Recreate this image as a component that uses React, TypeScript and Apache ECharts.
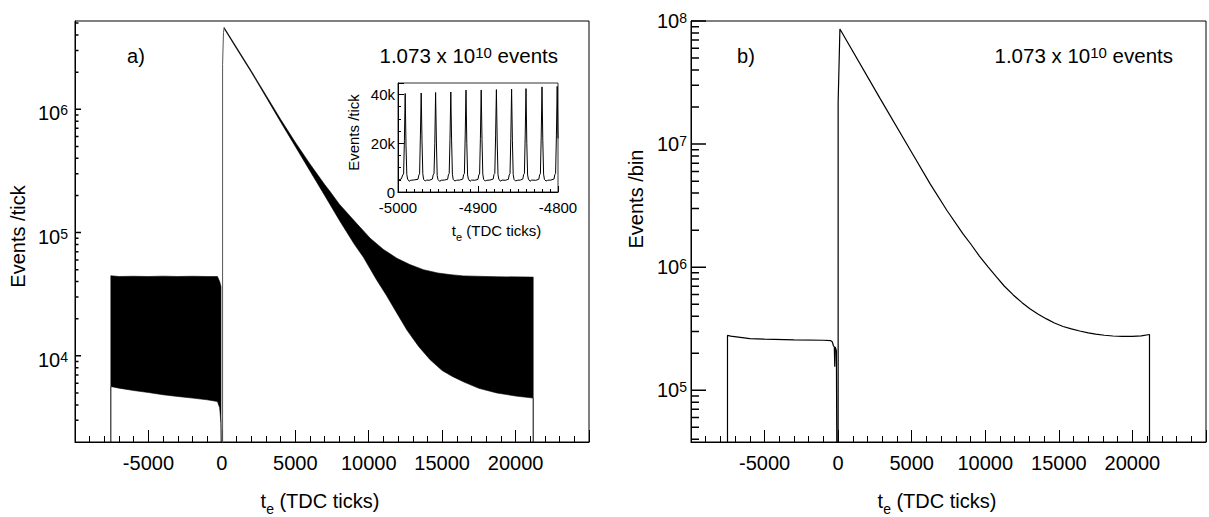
import React, { useEffect, useRef } from 'react';
import * as echarts from 'echarts';

const FONT = '"Liberation Sans", Arial, Helvetica, sans-serif';
const BLACK = '#000';

// ---------------- panel a) : per-tick histogram (envelope of the fast oscillation) ----------------
const aPreX = [-7560, -7000, -6000, -5000, -4000, -3000, -2000, -1000, -300, -150, -60];
const aPreUpper = [44600, 44000, 44200, 44000, 44300, 44000, 44200, 44000, 44000, 40000, 36500];
const aPreLower = [5640, 5470, 5230, 5040, 4830, 4680, 4540, 4400, 4260, 3800, 2840];

const aPostUpperX = [160, 2000, 4000, 5000, 6000, 7000, 7370, 8000, 9000, 10100, 11000, 11910, 12800, 13720, 14700, 15600, 16450, 18720, 21200];
const aPostUpper = [4.6e6, 2.05e6, 8.3e5, 5.4e5, 3.6e5, 2.45e5, 2.15e5, 1.7e5, 1.25e5, 9.0e4, 7.3e4, 6.2e4, 5.5e4, 5.0e4, 4.7e4, 4.55e4, 4.45e4, 4.38e4, 4.35e4];
const aPostLowerX = [160, 1000, 2000, 3000, 4000, 5000, 6000, 7000, 8000, 9000, 9640, 10500, 11200, 11910, 12600, 13400, 14180, 15000, 15700, 16450, 17500, 18720, 20000, 21200];
const aPostLower = [4.5e6, 3.1e6, 2.0e6, 1.26e6, 7.9e5, 5.0e5, 3.16e5, 2.0e5, 1.26e5, 8.1e4, 6.3e4, 4.2e4, 3.1e4, 2.23e4, 1.62e4, 1.19e4, 9.3e3, 7.6e3, 6.8e3, 6.15e3, 5.45e3, 5.0e3, 4.72e3, 4.54e3];

// histogram edges (1000 = empty bins, below the axis)
const aEdgeStartX = [-7560, -7560];
const aEdgeStartY = [1000, 5640];
const aEdgeZeroX = [-60, -20];
const aEdgeZeroY = [2840, 1000];
const aEdgeRiseX = [50, 50, 110, 160];
const aEdgeRiseY = [1000, 2.3e6, 4.2e6, 4.6e6];
const aEdgeEndX = [21200, 21200];
const aEdgeEndY = [4540, 1000];

// ---------------- panel b) : rebinned histogram ----------------
const bX = [-7520, -7520, -7300, -6000, -5000, -3000, -1000, -500, -400, -320, -260, -230, -200, -120, -70, 0, 0, 120, 2866, 5122, 6253, 7385, 8510, 9000, 9600, 10200, 10772, 11300, 11900, 12500, 13030, 13600, 14160, 14700, 15285, 15850, 16416, 17000, 17500, 18100, 18672, 19300, 20000, 20600, 21160, 21160];
const bY = [1e4, 2.79e5, 2.75e5, 2.63e5, 2.6e5, 2.57e5, 2.55e5, 2.53e5, 2.48e5, 2.3e5, 2.25e5, 1.55e5, 2.25e5, 2.1e5, 1e4, 1e4, 2.2e7, 8.6e7, 2.33e7, 8.07e6, 4.75e6, 2.9e6, 1.85e6, 1.55e6, 1.23e6, 1.0e6, 8.3e5, 7.0e5, 5.95e5, 5.15e5, 4.6e5, 4.15e5, 3.8e5, 3.52e5, 3.3e5, 3.15e5, 3.03e5, 2.93e5, 2.86e5, 2.8e5, 2.76e5, 2.74e5, 2.74e5, 2.77e5, 2.84e5, 1e4];

// ---------------- inset : zoom of panel a) ----------------
const insetX = [
  -5000, -4996, -4994, -4993, -4992, -4991, -4990, -4989, -4988, -4986, -4984, -4981,
  -4975, -4974, -4973, -4972, -4971, -4970, -4969, -4968, -4966, -4964, -4961,
  -4957, -4956, -4955, -4954, -4953, -4952, -4951, -4950, -4948, -4946, -4942,
  -4938, -4937, -4936, -4935, -4934, -4933, -4932, -4931, -4929, -4927, -4923,
  -4919, -4918, -4917, -4916, -4915, -4914, -4913, -4912, -4910, -4908, -4904,
  -4900, -4899, -4898, -4897, -4896, -4895, -4894, -4893, -4891, -4889, -4885,
  -4881, -4880, -4879, -4878, -4877, -4876, -4875, -4874, -4872, -4870, -4866,
  -4862, -4861, -4860, -4859, -4858, -4857, -4856, -4855, -4853, -4851, -4847,
  -4844, -4843, -4842, -4841, -4840, -4839, -4838, -4837, -4835, -4833, -4828,
  -4824, -4823, -4822, -4821, -4820, -4819, -4818, -4817, -4815, -4813, -4809,
  -4805, -4804, -4803, -4802, -4801, -4800,
];
const insetY = [
  4800, 5300, 7000, 7400, 21000, 40400, 19000, 7200, 5300, 4400, 4800, 4900,
  5200, 6900, 7500, 23000, 40600, 21000, 7500, 5200, 4500, 4900, 4800,
  5300, 7100, 7400, 20000, 40800, 20500, 6800, 5100, 4400, 4800, 4900,
  5200, 7000, 7600, 22000, 41000, 21000, 7300, 5200, 4500, 4800, 4900,
  5300, 7100, 7500, 23000, 41800, 20000, 7000, 5300, 4400, 4900, 4800,
  5200, 7000, 7400, 22000, 41800, 21500, 7400, 5200, 4500, 4800, 4900,
  5300, 7200, 7600, 23000, 42000, 20500, 7100, 5300, 4400, 4900, 4800,
  5200, 7000, 7500, 22000, 42200, 21000, 7200, 5200, 4500, 4800, 4900,
  5300, 7100, 7600, 23000, 42400, 20000, 7000, 5300, 4400, 4900, 4800,
  5200, 7000, 7500, 22500, 43100, 21000, 7300, 5200, 4500, 4800, 4900,
  5300, 7100, 7600, 23000, 43300, 22000,
];

const eventsText = '{a|1.073 x 10}{s|10}{a| events}';

// ---------------- layout ----------------
const X_MIN = -10000;
const X_MAX = 25000;
const A_YMIN = 2000;
const A_YMAX = 5.2e6;
const B_YMIN = 38000;
const B_YMAX = 1e8;
const GRID_A = { left: 75, top: 21, width: 514, height: 421 };
const GRID_B = { left: 691, top: 21, width: 515, height: 421 };
const GRID_I = { left: 398, top: 83, width: 160, height: 109 };

// ---------------- helpers ----------------
const zip = (xs: number[], ys: number[]) => xs.map((x, i) => [x, ys[i]]);

const logTicks = (lo: number, hi: number, major: boolean) => {
  const out: number[] = [];
  for (let k = Math.floor(Math.log10(lo)); k <= Math.ceil(Math.log10(hi)); k++) {
    if (major) {
      const v = Math.pow(10, k);
      if (v >= lo * 0.999999 && v <= hi * 1.000001) out.push(v);
    } else {
      for (let m = 2; m <= 9; m++) {
        const v = m * Math.pow(10, k);
        if (v > lo && v < hi) out.push(v);
      }
    }
  }
  return out;
};

const powLabel = (v: number) => {
  const e = Math.log10(v);
  const r = Math.round(e);
  if (Math.abs(e - r) > 1e-6) return '';
  return `{b|10}{s|${r}}`;
};

const powRich = {
  b: { fontSize: 20, lineHeight: 20, fontFamily: FONT, color: BLACK, verticalAlign: 'bottom' },
  s: { fontSize: 14, lineHeight: 14, fontFamily: FONT, color: BLACK, verticalAlign: 'top', padding: [0, 0, 10, 0] },
};

const subRich = (size: number, sub: number, lh: number) => ({
  t: { fontSize: size, lineHeight: size, fontFamily: FONT, color: BLACK, verticalAlign: 'middle' },
  s: { fontSize: sub, lineHeight: lh, fontFamily: FONT, color: BLACK, verticalAlign: 'bottom' },
});

const lineStyle = { color: BLACK, width: 1 };

const mainX = (g: number, shiftPad: number) => ({
  type: 'value',
  gridIndex: g,
  min: X_MIN,
  max: X_MAX,
  interval: 5000,
  axisLine: { show: true, onZero: false, lineStyle },
  axisTick: { show: true, inside: true, length: 12, lineStyle },
  minorTick: { show: true, splitNumber: 5, length: 6, lineStyle },
  splitLine: { show: false },
  minorSplitLine: { show: false },
  axisLabel: {
    formatter: (v: number) => (v <= X_MIN || v >= X_MAX ? '' : String(v)),
    fontSize: 20,
    fontFamily: FONT,
    color: BLACK,
    margin: 11,
  },
  name: '{t|t}{s|e}{t| (TDC ticks)}',
  nameLocation: 'middle',
  nameGap: 44,
  nameMoveOverlap: false,
  nameTextStyle: { rich: subRich(20, 14, 30), padding: [0, shiftPad, 0, 0] },
});

const logY = (g: number, min: number, max: number, name: string, gap: number, namePad: number[], labelPad: number[], margin: number) => ({
  type: 'log',
  logBase: 10,
  gridIndex: g,
  min,
  max,
  axisLine: { show: true, onZero: false, lineStyle },
  axisTick: { show: false },
  minorTick: { show: false },
  splitLine: { show: false },
  axisLabel: { formatter: powLabel, rich: powRich, margin, padding: labelPad },
  name,
  nameLocation: 'middle',
  nameGap: gap,
  nameMoveOverlap: false,
  nameTextStyle: { fontSize: 20, fontFamily: FONT, color: BLACK, padding: namePad },
});

const lineSeries = (g: number, data: any[], color: string, width: number, clip = true) => ({
  type: 'line',
  xAxisIndex: g,
  yAxisIndex: g,
  data,
  showSymbol: false,
  symbol: 'none',
  clip,
  silent: true,
  lineStyle: { color, width },
  z: 3,
});

// y ticks of a log axis drawn inward from the left frame: one short segment per tick value
const yTickData = (vals: number[], lenPx: number, gridWidth: number) => {
  const len = (lenPx * (X_MAX - X_MIN)) / gridWidth;
  const d: any[] = [];
  vals.forEach((v) => {
    d.push([X_MIN, v], [X_MIN + len, v], ['-', '-']);
  });
  return d;
};

const bandSeries = (g: number, ux: number[], hi: number[], lx: number[], lo: number[]) => ({
  type: 'custom',
  coordinateSystem: 'cartesian2d',
  xAxisIndex: g,
  yAxisIndex: g,
  silent: true,
  clip: true,
  data: [[ux[0], hi[0]]],
  renderItem: (_p: any, api: any) => {
    const pts: number[][] = [];
    for (let i = 0; i < ux.length; i++) pts.push(api.coord([ux[i], hi[i]]));
    for (let i = lx.length - 1; i >= 0; i--) pts.push(api.coord([lx[i], lo[i]]));
    return {
      type: 'polygon',
      shape: { points: pts },
      style: { fill: BLACK, stroke: BLACK, lineWidth: 0.6 },
    };
  },
  z: 2,
});

const textRich = {
  a: { fontSize: 20.5, lineHeight: 21, fontFamily: FONT, fill: BLACK, verticalAlign: 'bottom' },
  s: { fontSize: 15, lineHeight: 15, fontFamily: FONT, fill: BLACK, verticalAlign: 'top', padding: [0, 0, 10, 0] },
};

export default function App() {
  const ref = useRef<HTMLDivElement>(null);
  useEffect(() => {
    if (!ref.current) return;
    const chart = echarts.init(ref.current, undefined, { renderer: 'svg' });
    const gridBase = { show: true, borderWidth: 1, containLabel: false, outerBoundsMode: 'none' };
    const option: any = {
      animation: false,
      backgroundColor: '#fff',
      textStyle: { fontFamily: FONT, color: BLACK },
      grid: [
        { ...gridBase, ...GRID_A, borderColor: BLACK },
        { ...gridBase, ...GRID_B, borderColor: BLACK },
        { ...gridBase, ...GRID_I, borderColor: '#333', backgroundColor: '#fff', z: 5 },
      ],
      xAxis: [
        mainX(0, 24),
        mainX(1, 23),
        {
          type: 'value',
          gridIndex: 2,
          min: -5000,
          max: -4800,
          interval: 100,
          axisLine: { show: true, onZero: false, lineStyle },
          axisTick: { show: true, inside: true, length: 6, lineStyle },
          minorTick: { show: true, splitNumber: 10, length: 3, lineStyle },
          splitLine: { show: false },
          axisLabel: { formatter: (v: number) => String(v), fontSize: 15, fontFamily: FONT, color: BLACK, margin: 8 },
          name: '{t|t}{s|e}{t| (TDC ticks)}',
          nameLocation: 'middle',
          nameGap: 27,
          nameMoveOverlap: false,
          nameTextStyle: { rich: subRich(15, 11, 23), padding: [0, 0, 0, 37] },
          z: 6,
        },
      ],
      yAxis: [
        logY(0, A_YMIN, A_YMAX, 'Events /tick', 47, [0, 10, 0, 0], [8, 0, 0, 0], 7),
        logY(1, B_YMIN, B_YMAX, 'Events /bin', 45, [0, 0, 0, 65], [0, 0, 0, 0], 4),
        {
          type: 'value',
          gridIndex: 2,
          min: 0,
          max: 44700,
          interval: 20000,
          axisLine: { show: true, onZero: false, lineStyle },
          axisTick: { show: true, inside: true, length: 6, lineStyle },
          minorTick: { show: true, splitNumber: 4, length: 3, lineStyle },
          splitLine: { show: false },
          axisLabel: {
            formatter: (v: number) => (v === 0 ? '0' : v % 20000 === 0 ? `${v / 1000}k` : ''),
            fontSize: 15,
            fontFamily: FONT,
            color: BLACK,
            margin: 3,
            padding: [0, 0, 8, 0],
          },
          name: 'Events /tick',
          nameLocation: 'middle',
          nameGap: 37,
          nameMoveOverlap: false,
          nameTextStyle: { fontSize: 15, fontFamily: FONT, color: BLACK, padding: [0, 0, 0, 10] },
          z: 6,
        },
      ],
      series: [
        bandSeries(0, aPreX, aPreUpper, aPreX, aPreLower),
        bandSeries(0, aPostUpperX, aPostUpper, aPostLowerX, aPostLower),
        lineSeries(0, zip(aEdgeStartX, aEdgeStartY), BLACK, 1),
        lineSeries(0, zip(aEdgeZeroX, aEdgeZeroY), BLACK, 1),
        lineSeries(0, zip(aEdgeRiseX, aEdgeRiseY), '#555', 1),
        lineSeries(0, zip(aEdgeEndX, aEdgeEndY), BLACK, 1),
        lineSeries(0, yTickData(logTicks(A_YMIN, A_YMAX, true), 6, GRID_A.width), BLACK, 1.5, false),
        lineSeries(0, yTickData(logTicks(A_YMIN, A_YMAX, false), 3.5, GRID_A.width), BLACK, 1.5, false),
        lineSeries(1, zip(bX, bY), BLACK, 1.2),
        lineSeries(1, yTickData(logTicks(B_YMIN, B_YMAX, true), 15, GRID_B.width), BLACK, 1.5, false),
        lineSeries(1, yTickData(logTicks(B_YMIN, B_YMAX, false), 8, GRID_B.width), BLACK, 1.5, false),
        { ...lineSeries(2, zip(insetX, insetY), BLACK, 1), z: 7 },
      ],
      graphic: [
        { type: 'text', x: 136, y: 56, silent: true, z: 100, style: { text: 'a)', fontSize: 20, fontFamily: FONT, fill: BLACK, align: 'center', verticalAlign: 'middle' } },
        { type: 'text', x: 746, y: 56, silent: true, z: 100, style: { text: 'b)', fontSize: 20, fontFamily: FONT, fill: BLACK, align: 'center', verticalAlign: 'middle' } },
        { type: 'text', x: 558, y: 55, silent: true, z: 100, style: { text: eventsText, align: 'right', verticalAlign: 'middle', fill: BLACK, rich: textRich } },
        { type: 'text', x: 1173, y: 55, silent: true, z: 100, style: { text: eventsText, align: 'right', verticalAlign: 'middle', fill: BLACK, rich: textRich } },
      ],
    };
    chart.setOption(option);
    return () => chart.dispose();
  }, []);
  return <div ref={ref} style={{ position: 'absolute', left: 0, top: 0, width: 1209, height: 517 }} />;
}
